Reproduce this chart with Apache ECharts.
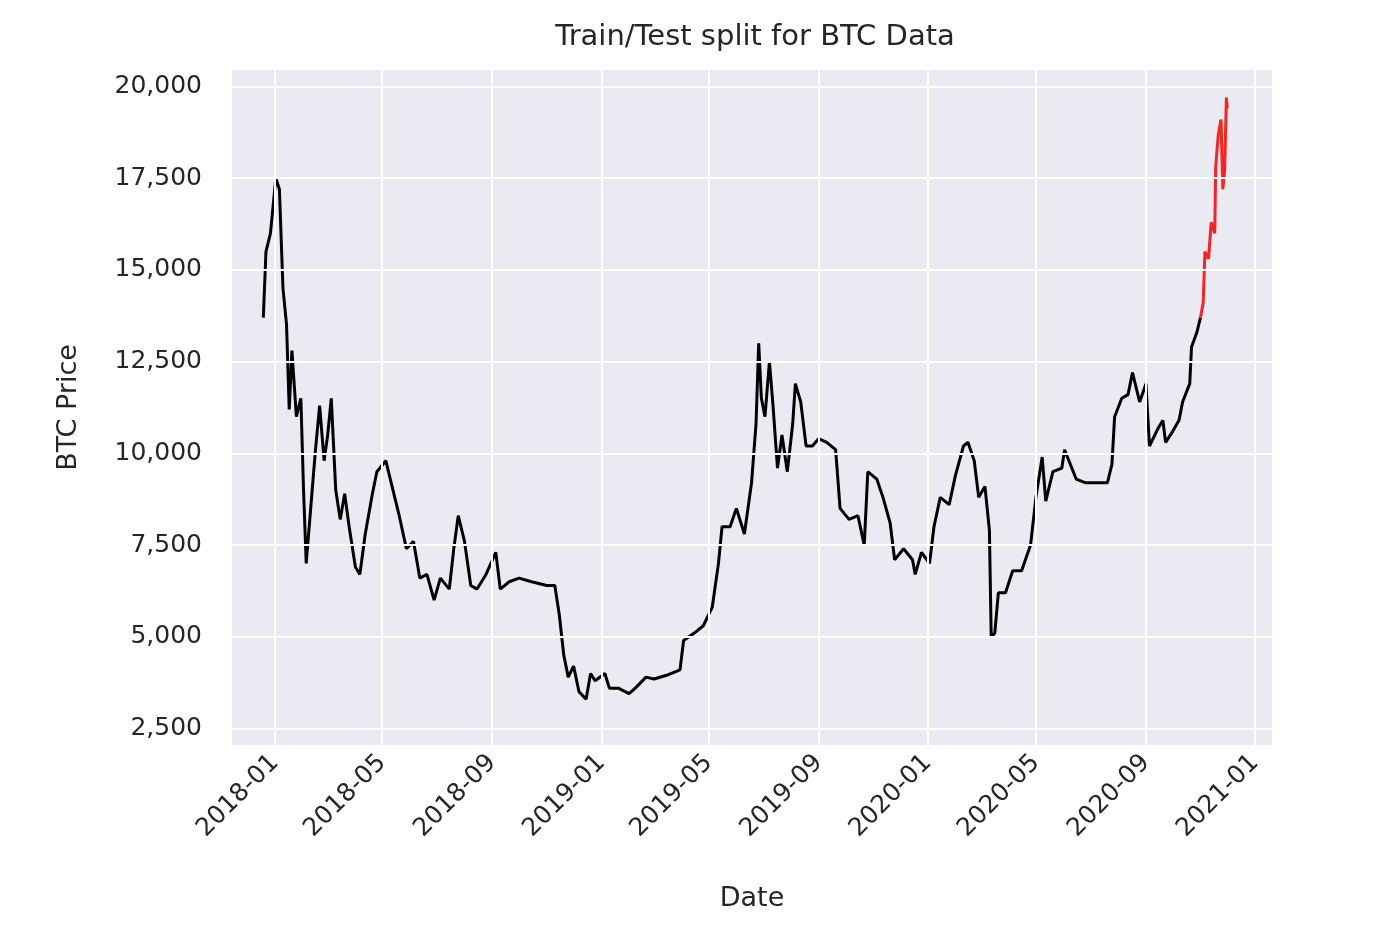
<!DOCTYPE html>
<html><head><meta charset="utf-8">
<script src="https://cdn.jsdelivr.net/npm/echarts@6/dist/echarts.min.js"></script>
<style>html,body{margin:0;background:#fff}#c{width:1400px;height:937px}</style>
</head><body><div id="c"></div>
<script>
const trainData = [
 ['2017-12-19',13700],['2017-12-22',15500],['2017-12-27',16000],['2018-01-02',17500],['2018-01-06',17200],
 ['2018-01-10',14500],['2018-01-14',13500],['2018-01-17',11200],['2018-01-20',12800],['2018-01-25',11000],
 ['2018-01-30',11500],['2018-02-02',9000],['2018-02-05',7000],['2018-02-10',8500],['2018-02-15',10000],
 ['2018-02-20',11300],['2018-02-25',9800],['2018-03-01',10500],['2018-03-05',11500],['2018-03-10',9000],
 ['2018-03-15',8200],['2018-03-20',8900],['2018-03-25',8000],['2018-04-01',6900],['2018-04-06',6700],
 ['2018-04-12',7800],['2018-04-20',8900],['2018-04-25',9500],['2018-05-05',9800],['2018-05-10',9300],
 ['2018-05-20',8300],['2018-05-28',7400],['2018-06-05',7600],['2018-06-12',6600],['2018-06-20',6700],
 ['2018-06-28',6000],['2018-07-05',6600],['2018-07-15',6300],['2018-07-20',7400],['2018-07-25',8300],
 ['2018-08-01',7600],['2018-08-08',6400],['2018-08-15',6300],['2018-08-25',6700],['2018-09-05',7300],
 ['2018-09-10',6300],['2018-09-20',6500],['2018-10-01',6600],['2018-10-15',6500],['2018-11-01',6400],
 ['2018-11-10',6400],['2018-11-15',5600],['2018-11-20',4500],['2018-11-25',3900],['2018-12-01',4200],
 ['2018-12-07',3500],['2018-12-15',3300],['2018-12-20',4000],['2018-12-25',3800],['2019-01-05',4000],
 ['2019-01-10',3600],['2019-01-20',3600],['2019-02-01',3450],['2019-02-08',3600],['2019-02-20',3900],
 ['2019-03-01',3850],['2019-03-15',3950],['2019-03-30',4100],['2019-04-03',4900],['2019-04-15',5100],
 ['2019-04-25',5300],['2019-05-05',5800],['2019-05-12',7000],['2019-05-16',8000],['2019-05-25',8000],
 ['2019-06-01',8500],['2019-06-10',7800],['2019-06-18',9200],['2019-06-23',10800],['2019-06-26',13000],
 ['2019-06-29',11500],['2019-07-03',11000],['2019-07-08',12500],['2019-07-12',11300],['2019-07-17',9600],
 ['2019-07-22',10500],['2019-07-28',9500],['2019-08-03',10800],['2019-08-06',11900],['2019-08-12',11400],
 ['2019-08-18',10200],['2019-08-25',10200],['2019-09-01',10400],['2019-09-10',10300],['2019-09-20',10100],
 ['2019-09-25',8500],['2019-10-05',8200],['2019-10-15',8300],['2019-10-22',7500],['2019-10-26',9500],
 ['2019-11-05',9300],['2019-11-12',8800],['2019-11-20',8100],['2019-11-25',7100],['2019-12-05',7400],
 ['2019-12-15',7100],['2019-12-18',6700],['2019-12-25',7300],['2020-01-03',7000],['2020-01-08',8000],
 ['2020-01-15',8800],['2020-01-25',8600],['2020-02-01',9400],['2020-02-10',10200],['2020-02-15',10300],
 ['2020-02-22',9800],['2020-02-27',8800],['2020-03-05',9100],['2020-03-10',7900],['2020-03-12',5000],
 ['2020-03-16',5100],['2020-03-20',6200],['2020-03-28',6200],['2020-04-05',6800],['2020-04-15',6800],
 ['2020-04-25',7500],['2020-05-01',8800],['2020-05-08',9900],['2020-05-12',8700],['2020-05-20',9500],
 ['2020-05-30',9600],['2020-06-02',10100],['2020-06-15',9300],['2020-06-25',9200],['2020-07-10',9200],
 ['2020-07-20',9200],['2020-07-25',9700],['2020-07-28',11000],['2020-08-05',11500],['2020-08-12',11600],
 ['2020-08-17',12200],['2020-08-25',11400],['2020-09-01',11900],['2020-09-05',10200],['2020-09-15',10700],
 ['2020-09-20',10900],['2020-09-23',10300],['2020-10-01',10600],['2020-10-08',10900],['2020-10-12',11400],
 ['2020-10-20',11900],['2020-10-22',12900],['2020-10-28',13300],['2020-11-01',13700]
];
const testData = [
 ['2020-11-01',13700],['2020-11-04',14100],['2020-11-06',15500],['2020-11-10',15300],['2020-11-13',16300],
 ['2020-11-17',16000],['2020-11-18',17800],['2020-11-21',18700],['2020-11-24',19100],['2020-11-26',17200],
 ['2020-11-28',17700],['2020-11-30',19700],['2020-12-01',19400]
];
const xTicks = ['2018-01-01','2018-05-01','2018-09-01','2019-01-01','2019-05-01','2019-09-01',
  '2020-01-01','2020-05-01','2020-09-01','2021-01-01'];
const yTicks = [2500,5000,7500,10000,12500,15000,17500,20000];

const ts = s => Date.parse(s + 'T00:00:00Z');
const xTickTs = xTicks.map(ts);
const fmt = v => { const d = new Date(v); return d.getUTCFullYear() + '-' + String(d.getUTCMonth()+1).padStart(2,'0'); };
const font = '"DejaVu Sans", sans-serif';
const gridLine = {lineStyle:{color:'#fff',width:2,type:'solid'}};

const chart = echarts.init(document.getElementById('c'));
chart.setOption({
  backgroundColor:'#fff',
  animation:false,
  title:{text:'Train/Test split for BTC Data',left:750,top:18,textAlign:'center',
    textStyle:{fontFamily:font,fontSize:29,fontWeight:'normal',color:'#262626'}},
  grid:{left:232,right:128,top:70,bottom:192,backgroundColor:'#eaeaf2',show:true,borderWidth:0},
  xAxis:{type:'value',min:ts('2017-11-14'),max:ts('2021-01-20'),
    name:'Date',nameLocation:'middle',nameGap:140,
    nameTextStyle:{fontFamily:font,fontSize:27,color:'#262626'},
    axisLine:{show:false},axisTick:{show:false},splitLine:{show:false},
    axisLabel:{customValues:xTickTs,formatter:fmt,rotate:45,fontFamily:font,fontSize:25,color:'#262626',margin:14}},
  yAxis:{type:'value',min:2050,max:20450,
    name:'BTC Price',nameLocation:'middle',nameGap:150,
    nameTextStyle:{fontFamily:font,fontSize:27,color:'#262626'},
    axisLine:{show:false},axisTick:{show:false},splitLine:{show:false},
    axisLabel:{customValues:yTicks,fontFamily:font,fontSize:25,color:'#262626',margin:30}},
  series:[
    {type:'line',data:[],silent:true,
      markLine:{silent:true,symbol:'none',label:{show:false},animation:false,
        data:[...xTickTs.map(v=>({xAxis:v,...gridLine})),...yTicks.map(v=>({yAxis:v,...gridLine}))]}},
    {type:'line',name:'train',data:trainData.map(d=>[ts(d[0]),d[1]]),showSymbol:false,
      lineStyle:{color:'#000',width:3},z:3},
    {type:'line',name:'test',data:testData.map(d=>[ts(d[0]),d[1]]),showSymbol:false,
      lineStyle:{color:'#ff2020',width:3},z:4}
  ]
});
</script></body></html>
